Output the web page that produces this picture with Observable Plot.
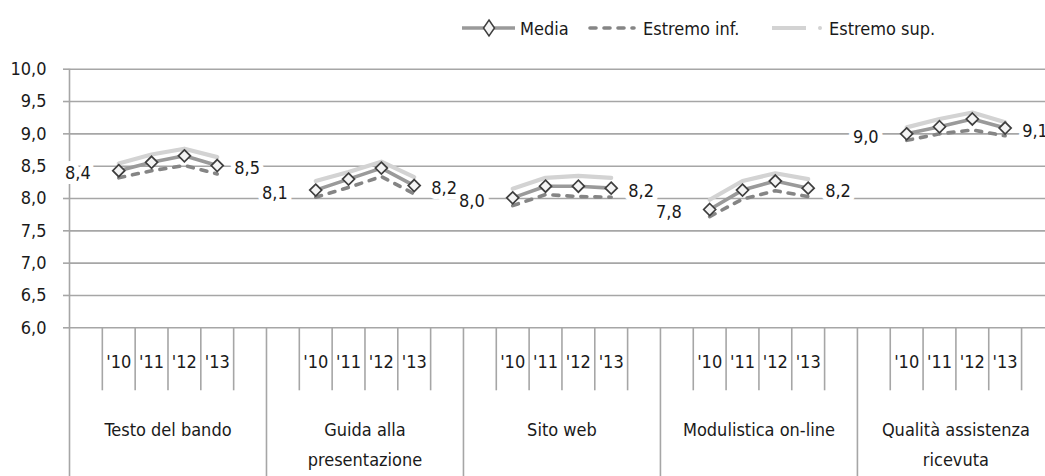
<!DOCTYPE html>
<html><head><meta charset="utf-8">
<script src="https://cdn.jsdelivr.net/npm/d3@7"></script>
<script src="https://cdn.jsdelivr.net/npm/@observablehq/plot@0.6"></script>
<style>
html,body{margin:0;padding:0;background:#fff;overflow:hidden;}
#wrap{width:1045px;height:476px;position:relative;font-family:"DejaVu Sans Condensed","Liberation Sans Narrow","DejaVu Sans",sans-serif;color:#1a1a1a;}
#legend{position:relative;height:50px;}
.li{position:absolute;top:0;height:56px;display:flex;align-items:center;font-size:18px;white-space:nowrap;}
.li svg{display:block;}
</style></head><body><div id="wrap"><div id="legend"></div><div id="chart"></div></div>
<script>
// ---- data ----
const categories = ["Testo del bando", "Guida alla\npresentazione", "Sito web", "Modulistica on-line", "Qualità assistenza\nricevuta"];
const years = ["'10", "'11", "'12", "'13"];
const media      = [8.43, 8.56, 8.66, 8.51,  8.13, 8.30, 8.47, 8.20,  8.01, 8.19, 8.19, 8.16,  7.83, 8.13, 8.27, 8.16,  9.00, 9.11, 9.23, 9.09];
const estremoInf = [8.32, 8.43, 8.51, 8.38,  8.02, 8.17, 8.34, 8.07,  7.89, 8.06, 8.03, 8.02,  7.72, 7.99, 8.12, 8.03,  8.90, 9.00, 9.06, 8.97];
const estremoSup = [8.54, 8.68, 8.77, 8.64,  8.27, 8.41, 8.57, 8.33,  8.15, 8.32, 8.35, 8.32,  7.98, 8.27, 8.39, 8.30,  9.10, 9.23, 9.33, 9.18];
const yTicks = [6.0, 6.5, 7.0, 7.5, 8.0, 8.5, 9.0, 9.5, 10.0];
const seriesNames = ["Media", "Estremo inf.", "Estremo sup."];

// ---- layout of the two-level category axis (slots) ----
const nY = years.length;
const slotsPerGroup = nY + 2;
const nSlots = categories.length * slotsPerGroup;
const rows = [];
categories.forEach((c, g) => years.forEach((yr, i) => {
  const k = g * nY + i;
  rows.push({cat: c, g, i, year: yr, pos: g * slotsPerGroup + 1 + i + 0.5,
             media: media[k], inf: estremoInf[k], sup: estremoSup[k]});
}));
const groupBounds = d3.range(0, nSlots + 1, slotsPerGroup);
const innerBounds = d3.range(0, nSlots).filter(s => s % slotsPerGroup !== 0);
const yearCenters = rows.map(r => r.pos);
const yearLabel = new Map(rows.map(r => [r.pos, r.year]));
const groupCenters = categories.map((c, g) => g * slotsPerGroup + slotsPerGroup / 2);
const groupLabel = new Map(categories.map((c, g) => [g * slotsPerGroup + slotsPerGroup / 2, c]));
const fmt = v => v.toFixed(1).replace(".", ",");

const firstPts = rows.filter(r => r.i === 0);
const lastPts = rows.filter(r => r.i === nY - 1);

const FONT = '"DejaVu Sans Condensed","Liberation Sans Narrow","DejaVu Sans",sans-serif';
const GRID = "#a6a6a6";
const slotW = 32.83;

const chart = Plot.plot({
  width: 1045,
  height: 426,
  marginLeft: 69,
  marginRight: 0,
  marginTop: 18.7,
  marginBottom: 148.7,
  style: {fontFamily: FONT, fontSize: "18px", color: "#1a1a1a", background: "#fff", overflow: "hidden"},
  x: {type: "linear", domain: [0, nSlots], range: [69, 69 + nSlots * slotW], axis: null},
  y: {domain: [6, 10], axis: null},
  marks: [
    Plot.gridY(yTicks, {stroke: GRID, strokeOpacity: 1, strokeWidth: 1.6}),
    Plot.axisY(yTicks, {tickSize: 6, tickPadding: 17, tickFormat: fmt, label: null, stroke: GRID, strokeWidth: 1.6, fontSize: 18, fill: "#1a1a1a"}),
    Plot.ruleX([0], {stroke: GRID, strokeWidth: 1.6}),
    Plot.axisX(innerBounds, {anchor: "bottom", tickSize: 63, tickFormat: () => "", label: null, stroke: GRID, strokeWidth: 1.6}),
    Plot.axisX(groupBounds, {anchor: "bottom", tickSize: 150, tickFormat: () => "", label: null, stroke: GRID, strokeWidth: 1.6}),
    Plot.axisX(yearCenters, {anchor: "bottom", tickSize: 0, tickPadding: 27, tickFormat: d => yearLabel.get(d), label: null, fontSize: 18, fill: "#1a1a1a"}),
    Plot.axisX(groupCenters, {anchor: "bottom", tickSize: 0, tickPadding: 87, tickFormat: d => groupLabel.get(d), label: null, fontSize: 18, lineHeight: 1.65, fill: "#1a1a1a"}),
    Plot.line(rows, {x: "pos", y: "sup", z: "cat", stroke: "#d3d3d3", strokeWidth: 4.2}),
    Plot.line(rows, {x: "pos", y: "inf", z: "cat", stroke: "#858585", strokeWidth: 3.6, strokeDasharray: "6,8", strokeLinecap: "round"}),
    Plot.line(rows, {x: "pos", y: "media", z: "cat", stroke: "#9a9a9a", strokeWidth: 3.6}),
    Plot.dot(rows, {x: "pos", y: "media", symbol: "diamond2", r: 5.4, fill: "#f4f4f4", stroke: "#3e3e3e", strokeWidth: 1.7}),
    Plot.text(firstPts, {x: "pos", y: "media", text: d => fmt(d.media), textAnchor: "end", dx: -28, dy: 3, fontSize: 18, fill: "#1a1a1a", stroke: "white", strokeWidth: 10}),
    Plot.text(lastPts, {x: "pos", y: "media", text: d => fmt(d.media), textAnchor: "start", dx: 17, dy: 3, fontSize: 18, fill: "#1a1a1a", stroke: "white", strokeWidth: 10})
  ]
});
document.getElementById("chart").appendChild(chart);

// ---- legend (HTML, above the chart) ----
const legend = document.getElementById("legend");
const samples = [
  {left: 462, w: 58, svg: `<line x1="0" y1="10" x2="53" y2="10" stroke="#9a9a9a" stroke-width="3.6"/><path d="M27,2 L32.5,10 L27,18 L21.5,10 Z" fill="#f4f4f4" stroke="#3e3e3e" stroke-width="1.5"/>`},
  {left: 588, w: 55, svg: `<line x1="2" y1="10" x2="46" y2="10" stroke="#858585" stroke-width="3.6" stroke-dasharray="6,8" stroke-linecap="round"/>`},
  {left: 772, w: 57, svg: `<line x1="0" y1="10" x2="34" y2="10" stroke="#d3d3d3" stroke-width="4.2"/><circle cx="48" cy="10" r="2" fill="#d3d3d3"/>`}
];
seriesNames.forEach((name, i) => {
  const s = samples[i];
  const div = document.createElement("div");
  div.className = "li";
  div.style.left = s.left + "px";
  div.innerHTML = `<svg width="${s.w}" height="20">${s.svg}</svg><span></span>`;
  div.querySelector("span").textContent = name;
  legend.appendChild(div);
});
</script>
</body></html>
